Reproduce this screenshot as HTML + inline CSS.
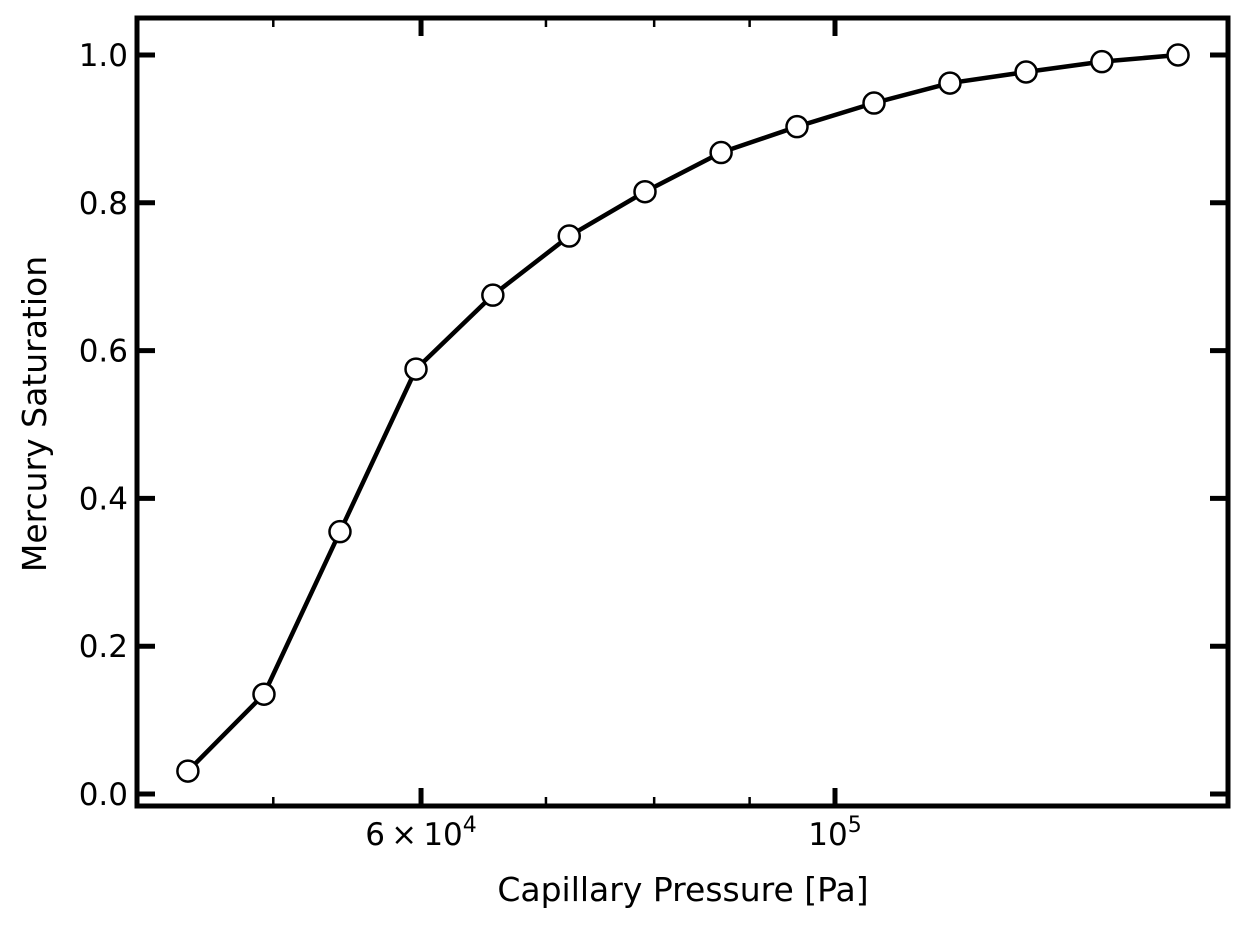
<!DOCTYPE html>
<html><head><meta charset="utf-8"><style>
body{margin:0;background:#fff;}
svg text{font-family:"DejaVu Sans","Liberation Sans",sans-serif;fill:#000;}
</style></head><body>
<svg id="chart" width="1247" height="927" xmlns="http://www.w3.org/2000/svg">
<g id="ticks"></g>
<g id="marks"></g>
<rect x="137" y="18" width="1091" height="788" fill="none" stroke="#000" stroke-width="5"/>
<text x="683" y="901" font-size="33" text-anchor="middle">Capillary Pressure [Pa]</text>
<text transform="translate(46,414) rotate(-90)" font-size="33" text-anchor="middle">Mercury Saturation</text>
</svg>
<script>
const pressures=[45000,49430,54290,59630,65560,72040,79100,86890,95420,104930,115240,126590,139000,152700];
const saturation=[0.031,0.135,0.355,0.575,0.675,0.755,0.815,0.868,0.903,0.935,0.962,0.977,0.991,1.0];
const yTicks=[0,0.2,0.4,0.6,0.8,1.0];
const yTickLabels=["0.0","0.2","0.4","0.6","0.8","1.0"];
const xMinorTicks=[50000,70000,80000,90000];
const NS="http://www.w3.org/2000/svg";
function xs(p){return 835+(Math.log10(p)-5)*1866;}
function ys(v){return 794-v*739;}
function mk(tag,attrs,parent){const e=document.createElementNS(NS,tag);for(const k in attrs)e.setAttribute(k,attrs[k]);parent.appendChild(e);return e;}
const tg=document.getElementById('ticks');
yTicks.forEach((v,i)=>{
  const y=ys(v);
  let l=mk('line',{x1:137,x2:155,y1:y,y2:y,stroke:'#000','stroke-width':5},tg);
  
  
  l=mk('line',{x1:1210,x2:1228,y1:y,y2:y,stroke:'#000','stroke-width':5},tg);
  
  
  const t=mk('text',{x:128,y:y+11,'font-size':31,'text-anchor':'end'},tg);
  t.textContent=yTickLabels[i];
  
  
});
[60000,100000].forEach(p=>{
  const x=xs(p);
  let l=mk('line',{x1:x,x2:x,y1:788,y2:806,stroke:'#000','stroke-width':5},tg);
  
  
  l=mk('line',{x1:x,x2:x,y1:18,y2:36,stroke:'#000','stroke-width':5},tg);
  
  
});
xMinorTicks.forEach(p=>{
  const x=xs(p);
  let l=mk('line',{x1:x,x2:x,y1:797,y2:806,stroke:'#000','stroke-width':2.5},tg);
  
  
  l=mk('line',{x1:x,x2:x,y1:18,y2:27,stroke:'#000','stroke-width':2.5},tg);
  
  
});
let t=mk('text',{x:xs(60000),y:845,'font-size':31,'text-anchor':'middle'},tg);
t.innerHTML='6\u2009\u00D7\u200910<tspan font-size="22" dy="-13">4</tspan>';


t=mk('text',{x:xs(100000),y:845,'font-size':31,'text-anchor':'middle'},tg);
t.innerHTML='10<tspan font-size="22" dy="-13">5</tspan>';


const mg=document.getElementById('marks');
const pts=pressures.map((p,i)=>xs(p)+','+ys(saturation[i])).join(' ');
const line=mk('polyline',{points:pts,fill:'none',stroke:'#000','stroke-width':4.5,'stroke-linejoin':'round'},mg);


pressures.forEach((p,i)=>{
  const c=mk('circle',{cx:xs(p),cy:ys(saturation[i]),r:10.5,fill:'#fff',stroke:'#000','stroke-width':2.5},mg);
  
  
});
</script>
</body></html>
